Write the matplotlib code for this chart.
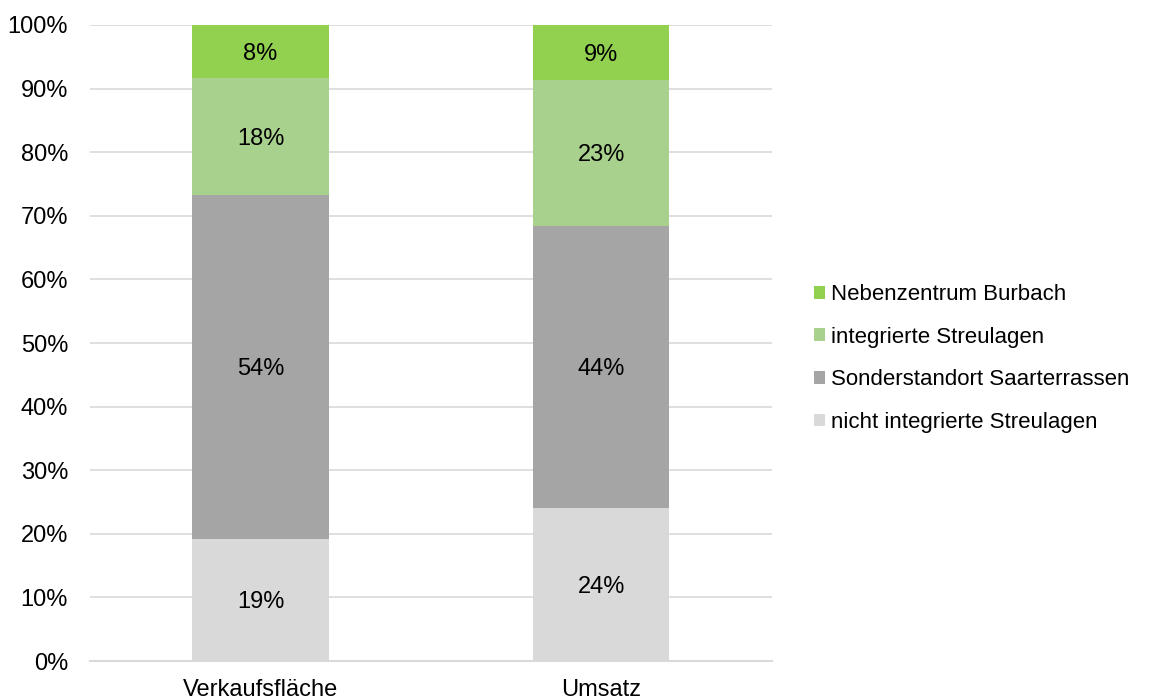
import numpy as np
import matplotlib
matplotlib.use('Agg')
import matplotlib.pyplot as plt

plt.rcParams['font.family'] = ['Liberation Sans', 'DejaVu Sans']

categories = ['Verkaufsfläche', 'Umsatz']
series = ['nicht integrierte Streulagen', 'Sonderstandort Saarterrassen',
          'integrierte Streulagen', 'Nebenzentrum Burbach']
nicht_integriert = [19.2, 24.1]
sonderstandort = [54.1, 44.3]
integriert = [18.4, 23.0]
nebenzentrum = [8.3, 8.6]
colors = ['#D9D9D9', '#A5A5A5', '#A9D18E', '#92D050']

values = [nicht_integriert, sonderstandort, integriert, nebenzentrum]

fs = 17

fig = plt.figure(figsize=(11.57, 7.0), dpi=100)
ax = fig.add_axes([0.078, 0.0557, 0.589, 0.9086])

x = np.arange(len(categories))
bottom = np.zeros(len(categories))
for name, vals, col in zip(series, values, colors):
    bars = ax.bar(x, vals, width=0.4, bottom=bottom, color=col, label=name, zorder=2)
    for b, v in zip(bars, vals):
        ax.text(b.get_x() + b.get_width() / 2, b.get_y() + b.get_height() / 2 - 0.4,
                f'{round(v):.0f}%', ha='center', va='center', fontsize=fs, color='#000000')
    bottom += np.array(vals)

ax.set_xlim(-0.5, 1.5)
ax.set_ylim(0, 100)
ax.set_yticks(np.arange(0, 101, 10))
ax.set_yticklabels([f'{t}%' for t in range(0, 101, 10)])
ax.set_xticks(x)
ax.set_xticklabels(categories)
ax.tick_params(axis='both', length=0, labelsize=fs, colors='#000000')
ax.tick_params(axis='x', pad=13)
ax.tick_params(axis='y', pad=16)
ax.yaxis.grid(True, color='#D9D9D9', linewidth=1.2, zorder=0)
ax.set_axisbelow(True)
for s in ['top', 'right', 'left']:
    ax.spines[s].set_visible(False)
ax.spines['bottom'].set_color('#D9D9D9')
ax.spines['bottom'].set_linewidth(1.5)

handles, labels = ax.get_legend_handles_labels()
leg = fig.legend(handles[::-1], labels[::-1], loc='center left', bbox_to_anchor=(0.686, 0.488),
                 frameon=False, fontsize=16, handlelength=0.5, handleheight=0.5,
                 handletextpad=0.3, labelspacing=0.97)

fig.savefig('out.png', dpi=100)
